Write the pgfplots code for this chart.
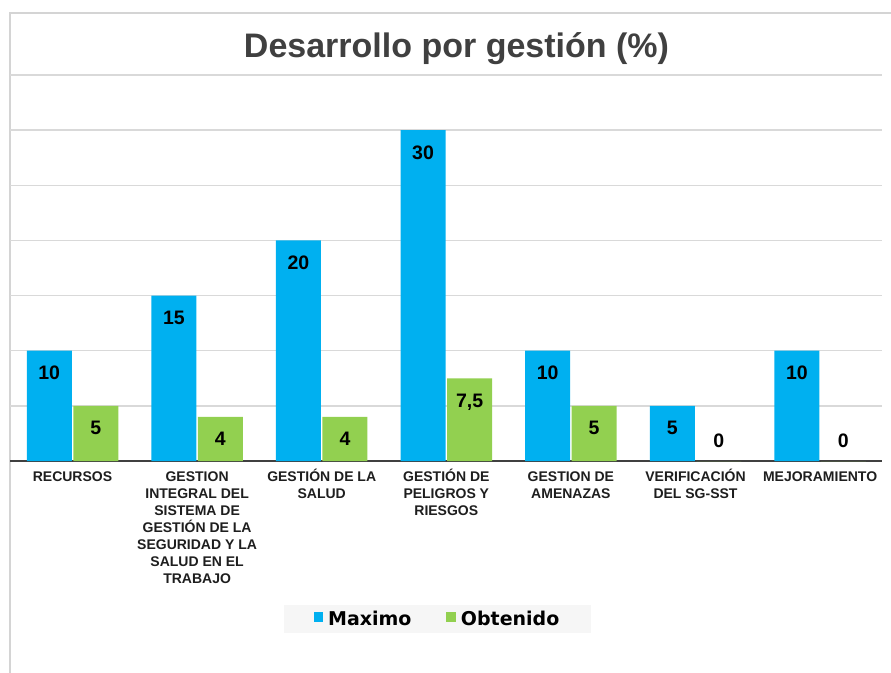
\documentclass[border=0pt]{standalone}
\usepackage{pgfplots}
\pgfplotsset{compat=1.18}
\usepackage{fontspec}
\setmainfont{Liberation Sans}
\newfontfamily\dvs{DejaVu Sans}
\definecolor{cblue}{HTML}{00B0F0}
\definecolor{cgreen}{HTML}{92D050}
\definecolor{gridc}{HTML}{D9D9D9}
\definecolor{axisc}{HTML}{404040}
\definecolor{titlec}{HTML}{404040}
\definecolor{borderc}{HTML}{D4D4D4}
\definecolor{labc}{HTML}{1E1E1E}
\definecolor{legbg}{HTML}{F6F6F6}
\newcommand{\fs}{\rule{0pt}{13.5bp}}
\begin{document}
\begin{tikzpicture}
\fill[white] (0,0) rectangle (891bp,673bp);
\path[use as bounding box] (0,0) rectangle (891bp,673bp);
\draw[borderc, line width=1.5bp] (10bp,0) -- (10bp,660bp) -- (891bp,660bp);
\node[anchor=base, text=titlec, font=\bfseries\fontsize{34bp}{40bp}\selectfont] at (456.5bp,615bp) {Desarrollo por gestión (\%)};
\begin{axis}[
  at={(10.2bp,212bp)}, anchor=south west,
  scale only axis, width=872.2bp, height=386bp,
  xmin=-0.5, xmax=6.5, ymin=0, ymax=35,
  ybar, bar width=45bp,
  clip=false,
  separate axis lines,
  axis x line*=bottom, axis y line*=left,
  x axis line style={axisc, line width=2bp, -},
  y axis line style={draw=none},
  ytick={5,10,...,35}, yticklabels={}, ymajorgrids,
  grid style={gridc, line width=1.3bp},
  xtick={0,...,6},
  xticklabels={{\fs RECURSOS},
    {\fs GESTION\\INTEGRAL DEL\\SISTEMA DE\\GESTIÓN DE LA\\SEGURIDAD Y LA\\SALUD EN EL\\TRABAJO},
    {\fs GESTIÓN DE LA\\SALUD},
    {\fs GESTIÓN DE\\PELIGROS Y\\RIESGOS},
    {\fs GESTION DE\\AMENAZAS},
    {\fs VERIFICACIÓN\\DEL SG-SST},
    {\fs MEJORAMIENTO}},
  major tick length=0pt,
  xticklabel style={align=center, font=\bfseries\fontsize{14bp}{17bp}\selectfont, text=labc, inner sep=0pt, yshift=-6.5bp},
  point meta=explicit symbolic,
  nodes near coords,
  nodes near coords style={anchor=base, font=\bfseries\fontsize{19.5bp}{22bp}\selectfont, text=black},
  legend columns=2,
  legend style={at={(0.4899,-0.4093)}, anchor=center, fill=legbg, draw=none,
    font=\dvs\bfseries\fontsize{19bp}{22bp}\selectfont, text=black,
    inner xsep=30bp, inner ysep=4.5bp,
    /tikz/every even column/.append style={column sep=33bp}},
  legend image code/.code={\fill[#1] (0bp,-3.4bp) rectangle (9.5bp,6.6bp); \path (12.5bp,0);},
]
\addplot[fill=cblue, draw=none, bar shift=-23.25bp, nodes near coords style={yshift=-29bp}]
  coordinates {(0,10)[10] (1,15)[15] (2,20)[20] (3,30)[30] (4,10)[10] (5,5)[5] (6,10)[10]};
\addplot[fill=cgreen, draw=none, bar shift=23.25bp, nodes near coords style={yshift=-29bp}]
  coordinates {(0,5)[5] (1,4)[4] (2,4)[4] (3,7.5)[{7,5}] (4,5)[5] (5,0)[{}] (6,0)[{}]};
\addplot[forget plot, draw=none, fill=none, bar shift=23.25bp, nodes near coords style={yshift=14bp}]
  coordinates {(5,0)[0] (6,0)[0]};
\legend{Maximo, Obtenido}
\end{axis}
\end{tikzpicture}
\end{document}
